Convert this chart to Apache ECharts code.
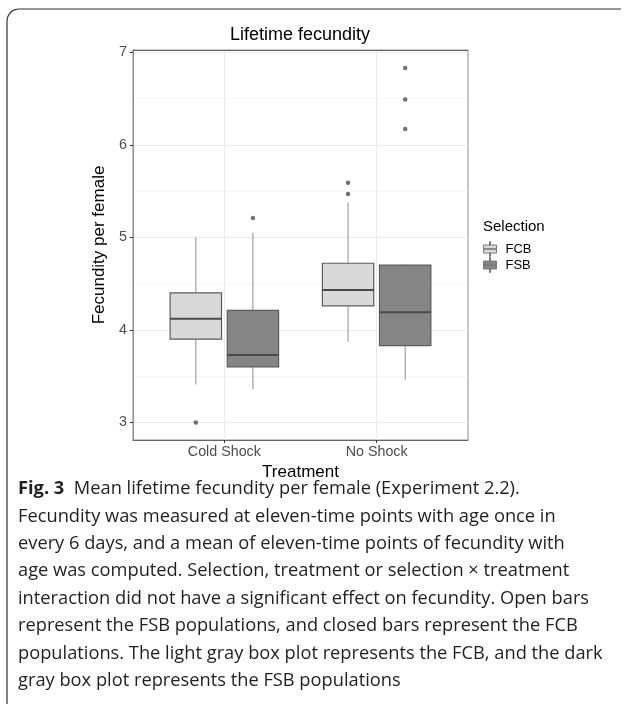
<!DOCTYPE html>
<html>
<head>
<meta charset="utf-8">
<script src="https://cdn.jsdelivr.net/npm/echarts@6.0.0/dist/echarts.min.js"></script>
<style>
html,body{margin:0;padding:0;background:#fff;}
#c{width:624px;height:706px;}
</style>
</head>
<body>
<div id="c"></div>
<script>
// ---- data ----
const treatments = ['Cold Shock', 'No Shock'];
const selections = ['FCB', 'FSB'];
// [lower whisker, Q1, median, Q3, upper whisker] per treatment
const fcbBoxes = [
  [3.41, 3.90, 4.12, 4.40, 5.00],
  [3.87, 4.26, 4.43, 4.72, 5.38]
];
const fsbBoxes = [
  [3.36, 3.60, 3.73, 4.21, 5.05],
  [3.46, 3.83, 4.19, 4.70, 4.71]
];
// [treatment index, value]
const fcbOutliers = [[0, 3.00], [1, 5.47], [1, 5.59]];
const fsbOutliers = [[0, 5.21], [1, 6.17], [1, 6.49], [1, 6.83]];
const yTicks = [3, 4, 5, 6, 7];
const yMinorTicks = [3.5, 4.5, 5.5, 6.5];
const captionLines = [
  'Mean lifetime fecundity per female (Experiment 2.2).',
  'Fecundity was measured at eleven-time points with age once in',
  'every 6 days, and a mean of eleven-time points of fecundity with',
  'age was computed. Selection, treatment or selection \u00d7 treatment',
  'interaction did not have a significant effect on fecundity. Open bars',
  'represent the FSB populations, and closed bars represent the FCB',
  'populations. The light gray box plot represents the FCB, and the dark',
  'gray box plot represents the FSB populations'
];

// ---- layout helpers ----
const DODGE = 0.1875;     // half of dodge width 0.75 / 2
const HALF_BOX = 0.16875; // half box width
const FILL = { FCB: '#d9d9d9', FSB: '#858585' };
const FONT = 'Liberation Sans, Arial, sans-serif';
const CAP_FONT = 'Open Sans';

function boxData(boxes, off) {
  return boxes.map((b, i) => [i + 1 + off].concat(b));
}
function outlierData(arr, off) {
  return arr.map(p => [p[0] + 1 + off, p[1]]);
}
function renderBox(fill) {
  return function (params, api) {
    const x = api.value(0);
    const lo = api.coord([x, api.value(1)]);
    const q1 = api.coord([x, api.value(2)]);
    const md = api.coord([x, api.value(3)]);
    const q3 = api.coord([x, api.value(4)]);
    const hi = api.coord([x, api.value(5)]);
    const left = api.coord([x - HALF_BOX, api.value(3)])[0];
    const right = api.coord([x + HALF_BOX, api.value(3)])[0];
    return {
      type: 'group',
      children: [
        { type: 'line', shape: { x1: lo[0], y1: lo[1], x2: q1[0], y2: q1[1] }, style: { stroke: '#8f8f8f', lineWidth: 1 } },
        { type: 'line', shape: { x1: q3[0], y1: q3[1], x2: hi[0], y2: hi[1] }, style: { stroke: '#8f8f8f', lineWidth: 1 } },
        { type: 'rect', shape: { x: left, y: q3[1], width: right - left, height: q1[1] - q3[1] }, style: { fill: fill, stroke: '#5c5c5c', lineWidth: 1.2 } },
        { type: 'line', shape: { x1: left, y1: md[1], x2: right, y2: md[1] }, style: { stroke: '#4a4a4a', lineWidth: 2 } }
      ]
    };
  };
}

// caption font size fitted to the reference line width
const mctx = document.createElement('canvas').getContext('2d');
mctx.font = '100px "' + CAP_FONT + '"';
const capSize = Math.min(19, 585 / mctx.measureText(captionLines[6]).width * 100);

const keyIcon = 'path://M0,3.5H13V11.5H0Z M6,0H7V3.5H6Z M6,11.5H7V15H6Z M0,7.2H13V7.8H0Z';

// rounded top-left frame corner
const cornerPts = [[7, 704]];
for (let k = 0; k <= 8; k++) {
  const a = Math.PI - (k / 8) * (Math.PI / 2);
  cornerPts.push([19 + 12 * Math.cos(a), 21 - 12 * Math.sin(a)]);
}
cornerPts.push([621, 9]);

const captionGraphics = captionLines.map((t, i) => ({
  type: 'text',
  x: 18,
  y: 489 + i * 27.4,
  style: i === 0 ? {
    text: '{b|Fig. 3}{n|  ' + t + '}',
    verticalAlign: 'middle',
    rich: {
      b: { fontFamily: CAP_FONT, fontWeight: 'bold', fontSize: capSize, fill: '#231f20' },
      n: { fontFamily: CAP_FONT, fontSize: capSize, fill: '#231f20' }
    }
  } : {
    text: t,
    fontFamily: CAP_FONT,
    fontSize: capSize,
    fill: '#231f20',
    verticalAlign: 'middle'
  }
}));

const chart = echarts.init(document.getElementById('c'), null, { renderer: 'canvas' });
chart.setOption({
  animation: false,
  backgroundColor: '#fff',
  textStyle: { fontFamily: FONT },
  title: {
    text: 'Lifetime fecundity',
    left: 300,
    top: 26,
    padding: 0,
    textAlign: 'center',
    textStyle: { fontFamily: FONT, fontSize: 18, fontWeight: 'normal', color: '#000' }
  },
  grid: {
    left: 133, right: 156, top: 50, bottom: 266,
    show: true, borderColor: '#8c8c8c', borderWidth: 1, backgroundColor: 'transparent'
  },
  legend: {
    orient: 'vertical',
    left: 483,
    top: 241,
    padding: 0,
    itemWidth: 13,
    itemHeight: 15,
    itemGap: 0,
    selectedMode: false,
    textStyle: { fontFamily: FONT, fontSize: 13, color: '#000', padding: [0, 0, 0, 4] },
    data: selections.map(s => ({
      name: s,
      icon: keyIcon,
      itemStyle: { color: FILL[s], borderColor: '#7a7a7a', borderWidth: 1 }
    }))
  },
  xAxis: [{
    type: 'value',
    min: 0.4,
    max: 2.6,
    position: 'bottom',
    axisLine: { show: true, lineStyle: { color: '#666', width: 1 } },
    axisTick: { show: true, customValues: [1, 2], length: 3, lineStyle: { color: '#333' } },
    axisLabel: {
      customValues: [1, 2],
      formatter: v => treatments[Math.round(v) - 1] || '',
      color: '#4d4d4d', fontSize: 14.3, margin: 5, fontFamily: FONT
    },
    splitLine: { show: true, lineStyle: { color: '#ebebeb', width: 1 } },
    name: 'Treatment',
    nameLocation: 'middle',
    nameGap: 18,
    nameTextStyle: { color: '#000', fontSize: 17, fontFamily: FONT }
  }, {
    type: 'value',
    min: 0.4,
    max: 2.6,
    position: 'top',
    axisLine: { show: true, lineStyle: { color: '#666', width: 1 } },
    axisTick: { show: false },
    axisLabel: { show: false },
    splitLine: { show: false }
  }],
  yAxis: [{
    type: 'value',
    min: 2.81,
    max: 7.025,
    axisLine: { show: true, lineStyle: { color: '#8c8c8c' } },
    axisTick: { show: true, customValues: yTicks, length: 3, lineStyle: { color: '#333' } },
    axisLabel: { customValues: yTicks, color: '#4d4d4d', fontSize: 14.3, margin: 6, fontFamily: FONT },
    splitLine: { show: true, lineStyle: { color: '#ebebeb', width: 1 } },
    name: 'Fecundity per female',
    nameLocation: 'middle',
    nameGap: 23,
    nameTextStyle: { color: '#000', fontSize: 17, fontFamily: FONT }
  }, {
    type: 'value',
    min: 2.81,
    max: 7.025,
    position: 'left',
    axisLine: { show: false },
    axisTick: { show: false, customValues: yMinorTicks },
    axisLabel: { show: false, customValues: yMinorTicks },
    splitLine: { show: true, lineStyle: { color: '#f4f4f4', width: 0.7 } }
  }],
  series: [
    {
      name: 'FCB', type: 'custom', xAxisIndex: 0, yAxisIndex: 0,
      renderItem: renderBox(FILL.FCB),
      encode: { x: 0, y: [1, 2, 3, 4, 5] },
      itemStyle: { color: FILL.FCB },
      data: boxData(fcbBoxes, -DODGE), z: 3
    },
    {
      name: 'FSB', type: 'custom', xAxisIndex: 0, yAxisIndex: 0,
      renderItem: renderBox(FILL.FSB),
      encode: { x: 0, y: [1, 2, 3, 4, 5] },
      itemStyle: { color: FILL.FSB },
      data: boxData(fsbBoxes, DODGE), z: 3
    },
    {
      name: 'FCB outliers', type: 'scatter', xAxisIndex: 0, yAxisIndex: 0,
      symbolSize: 4.5, itemStyle: { color: '#4d4d4d' },
      data: outlierData(fcbOutliers, -DODGE), z: 4
    },
    {
      name: 'FSB outliers', type: 'scatter', xAxisIndex: 0, yAxisIndex: 0,
      symbolSize: 4.5, itemStyle: { color: '#4d4d4d' },
      data: outlierData(fsbOutliers, DODGE), z: 4
    }
  ],
  graphic: [
    {
      type: 'polyline',
      shape: { points: cornerPts },
      style: { stroke: '#333', fill: null, lineWidth: 1.2 }
    },
    {
      type: 'text',
      x: 483, y: 227,
      style: { text: 'Selection', fontFamily: FONT, fontSize: 15, fill: '#000', verticalAlign: 'middle' }
    }
  ].concat(captionGraphics)
});
</script>
</body>
</html>
